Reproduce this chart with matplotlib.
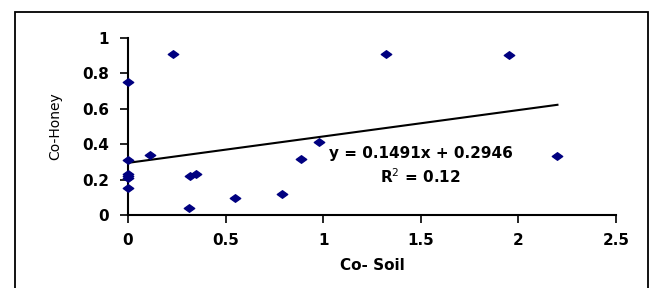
import matplotlib.pyplot as plt
import numpy as np
from matplotlib.patches import Rectangle
from matplotlib.path import Path

# ---------------- data ----------------
co_soil = [0.0, 0.229, 0.0, 0.113, 0.0, 0.0, 0.0, 0.0, 0.318, 0.347, 0.31,
           0.549, 0.788, 0.887, 0.981, 1.32, 1.952, 2.2]
co_honey = [0.75, 0.911, 0.311, 0.34, 0.232, 0.22, 0.207, 0.151, 0.223, 0.23,
            0.041, 0.096, 0.119, 0.319, 0.415, 0.911, 0.905, 0.334]
slope, intercept = 0.1491, 0.2946
r2 = 0.12
x_ticks = [0, 0.5, 1, 1.5, 2, 2.5]
x_tick_labels = ["0", "0.5", "1", "1.5", "2", "2.5"]
y_ticks = [0, 0.2, 0.4, 0.6, 0.8, 1]
y_tick_labels = ["0", "0.2", "0.4", "0.6", "0.8", "1"]

plt.rcParams['font.family'] = ['DejaVu Sans']

W, H = 654, 288
fig = plt.figure(figsize=(W / 100, H / 100), dpi=100)
# axes box in pixels: x 128..616, y 38..215
ax = fig.add_axes([128 / W, 1 - 215 / H, (616 - 128) / W, (215 - 38) / H])

# outer frame (bottom edge cut off like the reference)
fig.patches.append(Rectangle((14.5 / W, -0.05), (648 - 14.5) / W, 1.05 - 11.5 / H,
                             transform=fig.transFigure, fill=False,
                             edgecolor="black", linewidth=1.3))

diamond = Path([(-1, 0), (0, 0.72), (1, 0), (0, -0.72), (-1, 0)],
               [Path.MOVETO, Path.LINETO, Path.LINETO, Path.LINETO, Path.CLOSEPOLY])
ax.plot(co_soil, co_honey, linestyle="none", marker=diamond, markersize=7.5,
        markerfacecolor="#000080", markeredgecolor="#000080", clip_on=False, zorder=3)

xl = np.array([min(co_soil), max(co_soil)])
ax.plot(xl, slope * xl + intercept, color="black", linewidth=1.5, zorder=2)

ax.text(1.5, 0.35, f"y = {slope}x + {intercept}", ha="center", va="center",
        fontsize=11, fontweight="bold")
ax.text(1.5, 0.215, f"R$^2$ = {r2}", ha="center", va="center",
        fontsize=11, fontweight="bold")

ax.set_xlim(0, 2.5)
ax.set_ylim(0, 1)
ax.set_xticks(x_ticks)
ax.set_xticklabels(x_tick_labels)
ax.set_yticks(y_ticks)
ax.set_yticklabels(y_tick_labels)
for lab in ax.get_xticklabels() + ax.get_yticklabels():
    lab.set_fontweight("bold")
ax.tick_params(axis="both", direction="out", length=5.5, width=1.2, labelsize=11,
               colors="black")
ax.tick_params(axis="x", pad=7.5)
ax.tick_params(axis="y", pad=8)
ax.spines["top"].set_visible(False)
ax.spines["right"].set_visible(False)
ax.spines["left"].set_linewidth(1.5)
ax.spines["bottom"].set_linewidth(1.5)
ax.patch.set_alpha(0)

ax.set_xlabel("Co- Soil", fontsize=11, fontweight="bold", va="center")
ax.xaxis.set_label_coords(0.5, -50 / 177)
ax.set_ylabel("Co-Honey", fontsize=10, va="center")
ax.yaxis.set_label_coords(-73 / 488, 0.5)

fig.savefig("out.png", dpi=100)
